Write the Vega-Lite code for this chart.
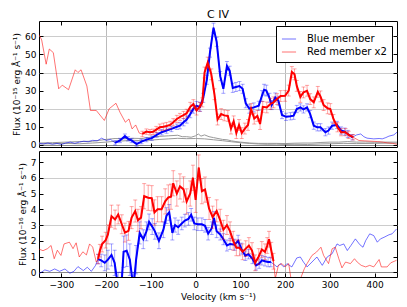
{
  "$schema": "https://vega.github.io/schema/vega-lite/v6.json",
  "padding": {"left": 12, "top": 8, "right": 9, "bottom": 5},
  "spacing": -1,
  "config": {
    "font": "DejaVu Sans",
    "view": {"stroke": "black", "strokeWidth": 1},
    "axis": {"domain": false, "labelFontSize": 9, "titleFontSize": 9, "labelColor": "black", "titleColor": "black", "titleFontWeight": "normal", "tickColor": "black", "tickSize": -4, "labelPadding": 7}
  },
  "resolve": {"scale": {"color": "independent"}, "legend": {"color": "independent"}},
  "datasets": {
    "r11": [
      {"v":-350,"f":61},{"v":-344,"f":58},{"v":-334,"f":44.6},{"v":-327,"f":53},{"v":-318,"f":51},{"v":-306,"f":31},{"v":-298,"f":33},{"v":-284,"f":30.5},{"v":-269,"f":41.5},{"v":-263,"f":40},{"v":-256,"f":41.5},{"v":-243,"f":32.5},{"v":-235,"f":19},{"v":-222,"f":19},{"v":-204,"f":13.5},{"v":-193,"f":20},{"v":-178,"f":23},{"v":-169,"f":18},{"v":-157,"f":12.5},{"v":-149,"f":14.3},{"v":-142,"f":8.8},{"v":-134,"f":11},{"v":-126,"f":6.5},
      {"v":-119,"f":6,"e":1.5},{"v":-110,"f":7.3,"e":1.5},{"v":-102,"f":7,"e":1.5},{"v":-95,"f":7.2,"e":1.5},{"v":-88,"f":8.4,"e":1.8},{"v":-80,"f":9.7,"e":1.8},{"v":-72,"f":10,"e":2},{"v":-65,"f":10.4,"e":2},{"v":-57,"f":11,"e":2},{"v":-50,"f":12.5,"e":2},{"v":-42,"f":14.3,"e":2},{"v":-35,"f":15.4,"e":2},{"v":-27,"f":16.5,"e":2},{"v":-20,"f":17.5,"e":2.2},{"v":-12,"f":21,"e":2.5},{"v":-5,"f":22.5,"e":2.5},{"v":2,"f":19,"e":2.5},{"v":9,"f":21,"e":2.5},{"v":15,"f":23.5,"e":2.5},{"v":20,"f":40,"e":3},{"v":27,"f":45.5,"e":3},{"v":35,"f":39,"e":3},{"v":42,"f":28,"e":3},{"v":49,"f":14,"e":3},{"v":57,"f":17,"e":3},{"v":64,"f":16.3,"e":3},{"v":72,"f":16,"e":3},{"v":79,"f":9,"e":3},{"v":85,"f":13,"e":3},{"v":91,"f":6.5,"e":3},{"v":97,"f":11,"e":3},{"v":103,"f":6.5,"e":3},{"v":110,"f":9,"e":3},{"v":117,"f":11,"e":3},{"v":124,"f":19.8,"e":3},{"v":131,"f":14.5,"e":3},{"v":138,"f":16,"e":3},{"v":144,"f":11.5,"e":3},{"v":150,"f":21,"e":3},{"v":159,"f":20.7,"e":3},{"v":167,"f":22.6,"e":3},{"v":174,"f":23.5,"e":3},{"v":182,"f":25.3,"e":3},{"v":190,"f":27,"e":3},{"v":200,"f":27.1,"e":3},{"v":208,"f":30,"e":3},{"v":215,"f":40.3,"e":3},{"v":221,"f":39,"e":3},{"v":226,"f":32.6,"e":3},{"v":234,"f":26.5,"e":3},{"v":241,"f":29,"e":3},{"v":249,"f":29.9,"e":3},{"v":256,"f":25.3,"e":3},{"v":264,"f":23.5,"e":3},{"v":273,"f":29.3,"e":3},{"v":279,"f":26.8,"e":3},{"v":286,"f":22,"e":3},{"v":295,"f":20.2,"e":3},{"v":301,"f":19.8,"e":3},{"v":308,"f":14.3,"e":2.5},{"v":317,"f":9.7,"e":2.5},{"v":325,"f":7,"e":2},{"v":335,"f":7,"e":2},{"v":342,"f":5.5,"e":2},{"v":352,"f":4.2,"e":1.5},
      {"v":365,"f":2.4},{"v":378,"f":2.2},{"v":392,"f":2},{"v":406,"f":1.8},{"v":418,"f":1.5},{"v":428,"f":1.1},{"v":440,"f":0.8},{"v":450,"f":0.3}
    ],
    "b11": [
      {"v":-350,"f":0.8},{"v":-340,"f":0.5},{"v":-330,"f":1},{"v":-320,"f":0.3},{"v":-310,"f":0.8},{"v":-300,"f":0.2},{"v":-290,"f":1},{"v":-280,"f":1.5},{"v":-270,"f":0.8},{"v":-260,"f":1.5},{"v":-250,"f":2},{"v":-240,"f":1.7},{"v":-230,"f":2.5},{"v":-220,"f":2.2},{"v":-210,"f":3.7},{"v":-200,"f":2.4},{"v":-190,"f":3},
      {"v":-180,"f":1.1,"e":1.2},{"v":-169,"f":2.4,"e":1.2},{"v":-158,"f":4.8,"e":1.2},{"v":-151,"f":3.3,"e":1.2},{"v":-143,"f":2.4,"e":1.2},{"v":-132,"f":0.4,"e":1.2},{"v":-121,"f":1.8,"e":1.2},{"v":-110,"f":2.9,"e":1.2},{"v":-98,"f":3.7,"e":1.2},{"v":-87,"f":5.5,"e":1.3},{"v":-76,"f":7,"e":1.5},{"v":-65,"f":7.9,"e":1.5},{"v":-54,"f":8.8,"e":1.5},{"v":-42,"f":10,"e":1.5},{"v":-35,"f":10.6,"e":1.8},{"v":-27,"f":12.5,"e":2},{"v":-20,"f":14,"e":2},{"v":-12,"f":17,"e":2},{"v":-5,"f":20,"e":2.5},{"v":2,"f":21.5,"e":2.5},{"v":10,"f":21,"e":2.5},{"v":17,"f":26,"e":2.5},{"v":25,"f":36,"e":2.5},{"v":32,"f":51,"e":2.5},{"v":40,"f":64.8,"e":2.5},{"v":47,"f":57,"e":2.5},{"v":55,"f":38,"e":2.5},{"v":62,"f":31,"e":2.5},{"v":70,"f":43.6,"e":2.5},{"v":76,"f":41,"e":2.5},{"v":83,"f":31.5,"e":2.5},{"v":90,"f":32,"e":2.5},{"v":98,"f":32.5,"e":2.5},{"v":105,"f":31,"e":2.5},{"v":112,"f":23,"e":2.5},{"v":120,"f":20,"e":2.5},{"v":130,"f":20.7,"e":2.5},{"v":141,"f":21.6,"e":2.5},{"v":148,"f":27,"e":3},{"v":153,"f":30.5,"e":3},{"v":158,"f":30,"e":3},{"v":165,"f":26,"e":2.5},{"v":170,"f":22,"e":2.5},{"v":178,"f":26.2,"e":2.5},{"v":185,"f":24.4,"e":2.5},{"v":193,"f":16.5,"e":2},{"v":202,"f":15.5,"e":2},{"v":212,"f":15.8,"e":2},{"v":219,"f":16.1,"e":2},{"v":226,"f":19.8,"e":2},{"v":234,"f":20.7,"e":2},{"v":241,"f":19.6,"e":2},{"v":249,"f":20.7,"e":2},{"v":256,"f":17,"e":2},{"v":264,"f":10.6,"e":2},{"v":272,"f":9.7,"e":2},{"v":279,"f":9.7,"e":2},{"v":290,"f":7,"e":2},{"v":297,"f":7.9,"e":2},{"v":305,"f":10.6,"e":2},{"v":316,"f":11,"e":2},{"v":325,"f":7.9,"e":2},{"v":333,"f":7.3,"e":2},{"v":340,"f":6,"e":2},{"v":350,"f":4.2,"e":1.5},
      {"v":360,"f":5.5},{"v":369,"f":6},{"v":376,"f":4.5},{"v":383,"f":3.7},{"v":398,"f":3.3},{"v":410,"f":3.5},{"v":417,"f":3.3},{"v":425,"f":4},{"v":432,"f":4.8},{"v":443,"f":5.5},{"v":450,"f":7}
    ],
    "g1": [
      {"v":-350,"f":1},{"v":-320,"f":1.2},{"v":-290,"f":1.5},{"v":-260,"f":1.8},{"v":-230,"f":2},{"v":-200,"f":3},{"v":-180,"f":3.5},{"v":-160,"f":3.3},{"v":-140,"f":3.6},{"v":-120,"f":3.5},{"v":-100,"f":4.2},{"v":-80,"f":4.7},{"v":-60,"f":5},{"v":-40,"f":5.3},{"v":-30,"f":4.5},{"v":-20,"f":4.5},{"v":-10,"f":4.2},{"v":0,"f":5},{"v":6,"f":6},{"v":12,"f":4.8},{"v":20,"f":5.5},{"v":30,"f":4.5},{"v":40,"f":4},{"v":50,"f":3.5},{"v":60,"f":3},{"v":70,"f":2.8},{"v":80,"f":2.2},{"v":90,"f":1.8},{"v":100,"f":1.5},{"v":120,"f":1},{"v":140,"f":0.8},{"v":160,"f":0.8},{"v":180,"f":0.8},{"v":200,"f":0.7},{"v":220,"f":0.9},{"v":240,"f":1},{"v":260,"f":1},{"v":280,"f":1.3},{"v":300,"f":1.5},{"v":320,"f":1.5},{"v":340,"f":1.8},{"v":360,"f":1.5},{"v":380,"f":1.6},{"v":400,"f":1.4},{"v":420,"f":1.5},{"v":450,"f":1.5}
    ],
    "g2": [
      {"v":-350,"f":0.5},{"v":-320,"f":0.6},{"v":-290,"f":0.8},{"v":-260,"f":0.6},{"v":-230,"f":1},{"v":-200,"f":1.5},{"v":-180,"f":2},{"v":-160,"f":2.2},{"v":-140,"f":2.5},{"v":-120,"f":2.3},{"v":-100,"f":2.6},{"v":-80,"f":3},{"v":-60,"f":3.3},{"v":-40,"f":3.6},{"v":-20,"f":3.4},{"v":0,"f":3.5},{"v":20,"f":3.3},{"v":40,"f":2.8},{"v":60,"f":2.3},{"v":80,"f":1.7},{"v":100,"f":1.2},{"v":120,"f":0.8},{"v":140,"f":0.5},{"v":160,"f":0.3},{"v":180,"f":0.4},{"v":200,"f":0.2},{"v":220,"f":0.3},{"v":250,"f":0.2},{"v":280,"f":0.5},{"v":300,"f":0.6},{"v":330,"f":0.8},{"v":360,"f":0.7},{"v":400,"f":0.8},{"v":450,"f":1}
    ],
    "r13": [
      {"v":-350,"f":1.47},{"v":-341,"f":1.37},{"v":-331,"f":1.5},{"v":-323,"f":1.7},{"v":-316,"f":0.86},{"v":-309,"f":1.4},{"v":-301,"f":1.07},{"v":-294,"f":1.8},{"v":-282,"f":1.91},{"v":-274,"f":1.5},{"v":-267,"f":1.87},{"v":-260,"f":0.97},{"v":-252,"f":1.3},{"v":-244,"f":1.1},{"v":-237,"f":1.8},{"v":-230,"f":1.6},{"v":-222,"f":0.65},
      {"v":-218,"f":0.84,"e":0.3},{"v":-214,"f":1.37,"e":0.4},{"v":-209,"f":1.79,"e":0.5},{"v":-201,"f":2.04,"e":0.5},{"v":-196,"f":2.4,"e":0.6},{"v":-188,"f":3.56,"e":0.7},{"v":-180,"f":3.35,"e":0.6},{"v":-173,"f":3.67,"e":0.6},{"v":-165,"f":3.05,"e":0.6},{"v":-158,"f":2.52,"e":0.6},{"v":-150,"f":2.63,"e":0.6},{"v":-143,"f":3.47,"e":0.7},{"v":-135,"f":3.89,"e":0.7},{"v":-129,"f":3.3,"e":0.7},{"v":-122,"f":3.47,"e":0.7},{"v":-115,"f":4.83,"e":0.8},{"v":-106,"f":4.73,"e":0.8},{"v":-98,"f":4.7,"e":0.8},{"v":-92,"f":3.8,"e":0.8},{"v":-85,"f":4.0,"e":0.8},{"v":-76,"f":4.0,"e":0.8},{"v":-68,"f":4.5,"e":0.8},{"v":-61,"f":4.75,"e":0.8},{"v":-55,"f":4.8,"e":0.8},{"v":-50,"f":5.65,"e":0.8},{"v":-42,"f":5.0,"e":0.8},{"v":-35,"f":5.45,"e":0.8},{"v":-27,"f":5.26,"e":0.8},{"v":-20,"f":4.5,"e":0.8},{"v":-12,"f":5.0,"e":0.8},{"v":-6,"f":6.0,"e":0.8},{"v":0,"f":4.6,"e":0.8},{"v":7,"f":6.65,"e":0.8},{"v":14,"f":5.15,"e":0.8},{"v":21,"f":5.25,"e":0.8},{"v":30,"f":4.05,"e":0.7},{"v":38,"f":3.5,"e":0.7},{"v":47,"f":3.9,"e":0.7},{"v":55,"f":3.3,"e":0.7},{"v":62,"f":2.7,"e":0.6},{"v":70,"f":3.0,"e":0.6},{"v":77,"f":2.6,"e":0.6},{"v":84,"f":2.0,"e":0.6},{"v":91,"f":1.55,"e":0.5},{"v":98,"f":1.55,"e":0.5},{"v":105,"f":1.3,"e":0.5},{"v":112,"f":1.5,"e":0.5},{"v":119,"f":1.7,"e":0.5},{"v":126,"f":1.38,"e":0.5},{"v":133,"f":0.6,"e":0.5},{"v":141,"f":1.0,"e":0.5},{"v":148,"f":1.45,"e":0.5},{"v":155,"f":1.3,"e":0.5},{"v":160,"f":1.7,"e":0.5},{"v":164,"f":2.1,"e":0.5},{"v":169,"f":1.4,"e":0.5},{"v":174,"f":0.7,"e":0.5},
      {"v":178,"f":-0.4},{"v":185,"f":0.44},{"v":193,"f":0.55},{"v":200,"f":0.34},{"v":208,"f":0.55},{"v":213,"f":-0.4},{"v":223,"f":-0.5},{"v":233,"f":-0.5},{"v":243,"f":0.23},{"v":249,"f":0.55},{"v":260,"f":1.07},{"v":270,"f":1.28},{"v":280,"f":1.59},{"v":286,"f":1.07},{"v":297,"f":0.55},{"v":305,"f":1.49},{"v":312,"f":1.59},{"v":320,"f":0.86},{"v":327,"f":0.28},{"v":335,"f":0.65},{"v":346,"f":0.55},{"v":355,"f":0.86},{"v":361,"f":0.65},{"v":370,"f":0.44},{"v":380,"f":0.34},{"v":389,"f":0.44},{"v":398,"f":0.34},{"v":410,"f":0.81},{"v":415,"f":0.34},{"v":428,"f":0.34},{"v":436,"f":0.6},{"v":449,"f":0.76}
    ],
    "b13": [
      {"v":-350,"f":-0.1},{"v":-337,"f":0.15},{"v":-326,"f":0.06},{"v":-315,"f":0.21},{"v":-304,"f":0.06},{"v":-292,"f":0.21},{"v":-281,"f":-0.06},{"v":-272,"f":0.06},{"v":-263,"f":0.36},{"v":-251,"f":0.11},{"v":-242,"f":0.32},{"v":-233,"f":0.06},{"v":-224,"f":0.42},
      {"v":-218,"f":0.84,"e":0.3},{"v":-211,"f":0.75,"e":0.4},{"v":-203,"f":0.6,"e":0.5},{"v":-196,"f":0.8,"e":0.6},{"v":-188,"f":1.1,"e":0.7},{"v":-181,"f":0.6,"e":0.8},{"v":-173,"f":-1,"e":1},{"v":-166,"f":-1,"e":1},{"v":-161,"f":1.3,"e":1},{"v":-154,"f":1.37,"e":1},{"v":-147,"f":0.8,"e":1},{"v":-139,"f":-1,"e":1},{"v":-133,"f":0.8,"e":0.9},{"v":-125,"f":2.5,"e":0.7},{"v":-117,"f":2.1,"e":0.6},{"v":-110,"f":2.6,"e":0.6},{"v":-104,"f":3.2,"e":0.5},{"v":-97,"f":2.9,"e":0.5},{"v":-91,"f":2.6,"e":0.5},{"v":-82,"f":2.0,"e":0.5},{"v":-72,"f":2.7,"e":0.5},{"v":-65,"f":3.6,"e":0.5},{"v":-59,"f":3.8,"e":0.5},{"v":-52,"f":2.5,"e":0.45},{"v":-46,"f":3.0,"e":0.45},{"v":-39,"f":2.86,"e":0.45},{"v":-31,"f":3.1,"e":0.4},{"v":-24,"f":3.28,"e":0.4},{"v":-16,"f":3.39,"e":0.4},{"v":-10,"f":3.65,"e":0.4},{"v":-3,"f":3.1,"e":0.4},{"v":5,"f":3.05,"e":0.4},{"v":14,"f":3.05,"e":0.4},{"v":21,"f":2.95,"e":0.4},{"v":28,"f":2.45,"e":0.4},{"v":36,"f":2.8,"e":0.4},{"v":41,"f":3.45,"e":0.4},{"v":47,"f":2.6,"e":0.4},{"v":55,"f":2.4,"e":0.35},{"v":62,"f":2.1,"e":0.35},{"v":70,"f":1.7,"e":0.35},{"v":77,"f":1.8,"e":0.35},{"v":87,"f":1.75,"e":0.35},{"v":95,"f":2.0,"e":0.35},{"v":102,"f":1.5,"e":0.35},{"v":111,"f":1.05,"e":0.3},{"v":118,"f":1.15,"e":0.3},{"v":127,"f":0.85,"e":0.3},{"v":135,"f":0.44,"e":0.3},{"v":142,"f":0.55,"e":0.3},{"v":148,"f":0.76,"e":0.3},{"v":155,"f":0.7,"e":0.3},{"v":162,"f":0.65,"e":0.3},{"v":168,"f":0.65,"e":0.3},
      {"v":175,"f":0.5},{"v":182,"f":0.34},{"v":189,"f":0.55},{"v":197,"f":0.34},{"v":204,"f":0.55},{"v":215,"f":0.34},{"v":226,"f":0.91},{"v":234,"f":0.97},{"v":241,"f":0.65},{"v":249,"f":0.34},{"v":260,"f":0.65},{"v":271,"f":0.97},{"v":283,"f":0.44},{"v":294,"f":0.97},{"v":305,"f":1.18},{"v":316,"f":1.8},{"v":322,"f":1.7},{"v":331,"f":1.8},{"v":339,"f":1.38},{"v":347,"f":1.7},{"v":357,"f":2.12},{"v":367,"f":1.75},{"v":374,"f":1.59},{"v":380,"f":2.01},{"v":389,"f":2.44},{"v":398,"f":2.33},{"v":406,"f":1.91},{"v":413,"f":2.12},{"v":421,"f":2.22},{"v":432,"f":2.38},{"v":439,"f":2.44},{"v":449,"f":2.75}
    ]
  },
  "vconcat": [
    {
      "width": 358, "height": 126,
      "title": {"text": "C IV", "fontSize": 11, "fontWeight": "normal", "font": "DejaVu Sans", "anchor": "middle", "frame": "group", "offset": 1},
      "resolve": {"axis": {"x": "independent", "y": "independent"}},
      "layer": [
        {"data": {"name": "g1"}, "mark": {"type": "line", "color": "#999999", "strokeWidth": 1, "clip": true},
         "encoding": {
           "x": {"field": "v", "type": "quantitative", "scale": {"domain": [-350, 450], "nice": false, "zero": false},
                 "axis": {"values": [-300,-200,-100,0,100,200,300,400], "labels": false, "labelPadding": 0, "title": null, "grid": true, "gridColor": "#bbbbbb",
                          "gridOpacity": {"condition": {"test": "datum.value === -200 || datum.value === 0 || datum.value === 200", "value": 1}, "value": 0}}},
           "y": {"field": "f", "type": "quantitative", "scale": {"domain": [-1.2, 68.5], "nice": false, "zero": false},
                 "axis": {"values": [0,10,20,30,40,50,60], "title": "Flux (10⁻¹⁵ erg Å⁻¹ s⁻¹)", "titlePadding": 3, "grid": true,
                          "gridColor": {"condition": {"test": "datum.value === 0", "value": "#888888"}, "value": "#cccccc"},
                          "gridOpacity": {"condition": {"test": "datum.value % 20 === 0", "value": 1}, "value": 0}}}
         }},
        {"data": {"name": "g2"}, "mark": {"type": "line", "color": "#999999", "strokeWidth": 1, "clip": true},
         "encoding": {"x": {"field": "v", "type": "quantitative", "axis": {"orient": "top", "values": [-300,-200,-100,0,100,200,300,400], "labels": false, "title": null, "labelPadding": 0, "grid": false}},
                      "y": {"field": "f", "type": "quantitative", "axis": {"orient": "right", "values": [0,10,20,30,40,50,60], "labels": false, "title": null, "labelPadding": 0, "grid": false}}}},
        {"data": {"name": "b11"}, "mark": {"type": "line", "strokeWidth": 1, "opacity": 0.55, "clip": true},
         "encoding": {"x": {"field": "v", "type": "quantitative", "axis": null}, "y": {"field": "f", "type": "quantitative", "axis": null},
           "color": {"datum": "Blue member", "type": "nominal", "scale": {"domain": ["Blue member", "Red member x2"], "range": ["#0000ff", "#ff0000"]},
             "legend": {"orient": "top-right", "title": null, "symbolType": "stroke", "symbolStrokeWidth": 1, "symbolOpacity": 0.6, "symbolSize": 200, "labelFontSize": 10, "labelFont": "DejaVu Sans", "labelColor": "black", "fillColor": "white", "strokeColor": "black", "padding": 5, "offset": 5, "rowPadding": 0, "labelOffset": 10, "labelLimit": 200}}}},
        {"data": {"name": "r11"}, "mark": {"type": "line", "strokeWidth": 1, "opacity": 0.55, "clip": true},
         "encoding": {"x": {"field": "v", "type": "quantitative", "axis": null}, "y": {"field": "f", "type": "quantitative", "axis": null},
           "color": {"datum": "Red member x2", "type": "nominal"}}},
        {"data": {"name": "b11"}, "transform": [{"filter": "isValid(datum.e)"}],
         "mark": {"type": "errorbar", "ticks": {"size": 4}, "color": "#0000ff", "opacity": 0.35, "clip": true},
         "encoding": {"x": {"field": "v", "type": "quantitative", "axis": null}, "y": {"field": "f", "type": "quantitative", "axis": null}, "yError": {"field": "e"}}},
        {"data": {"name": "b11"}, "transform": [{"filter": "isValid(datum.e)"}],
         "mark": {"type": "line", "color": "#0000ff", "strokeWidth": 2, "clip": true},
         "encoding": {"x": {"field": "v", "type": "quantitative", "axis": null}, "y": {"field": "f", "type": "quantitative", "axis": null}}},
        {"data": {"name": "r11"}, "transform": [{"filter": "isValid(datum.e)"}],
         "mark": {"type": "errorbar", "ticks": {"size": 4}, "color": "#ff0000", "opacity": 0.35, "clip": true},
         "encoding": {"x": {"field": "v", "type": "quantitative", "axis": null}, "y": {"field": "f", "type": "quantitative", "axis": null}, "yError": {"field": "e"}}},
        {"data": {"name": "r11"}, "transform": [{"filter": "isValid(datum.e)"}],
         "mark": {"type": "line", "color": "#ff0000", "strokeWidth": 2, "clip": true},
         "encoding": {"x": {"field": "v", "type": "quantitative", "axis": null}, "y": {"field": "f", "type": "quantitative", "axis": null}}},
        {"mark": {"type": "text", "text": "2011", "fontSize": 12, "color": "black", "align": "center", "baseline": "middle"},
         "encoding": {"x": {"datum": -240, "type": "quantitative", "axis": null}, "y": {"datum": 56.5, "type": "quantitative", "axis": null}}},
        {"mark": {"type": "text", "text": "2013", "fontSize": 10, "color": "#999999", "align": "center", "baseline": "middle"},
         "encoding": {"x": {"datum": -83, "type": "quantitative", "axis": null}, "y": {"datum": 22.5, "type": "quantitative", "axis": null}}},
        {"mark": {"type": "rule", "color": "#777777", "strokeWidth": 0.8},
         "encoding": {"x": {"datum": -76, "type": "quantitative", "axis": null}, "y": {"datum": 18.3, "type": "quantitative", "axis": null}, "x2": {"datum": -32}, "y2": {"datum": 4.8}}}
      ]
    },
    {
      "width": 358, "height": 126,
      "resolve": {"axis": {"x": "independent", "y": "independent"}},
      "layer": [
        {"data": {"name": "b13"}, "mark": {"type": "line", "color": "#0000ff", "strokeWidth": 1, "opacity": 0.55, "clip": true},
         "encoding": {
           "x": {"field": "v", "type": "quantitative", "scale": {"domain": [-350, 450], "nice": false, "zero": false},
                 "axis": {"values": [-300,-200,-100,0,100,200,300,400], "title": "Velocity (km s⁻¹)", "titlePadding": 3, "grid": true, "gridColor": "#bbbbbb",
                          "gridOpacity": {"condition": {"test": "datum.value === -200 || datum.value === 0 || datum.value === 200", "value": 1}, "value": 0}}},
           "y": {"field": "f", "type": "quantitative", "scale": {"domain": [-0.3, 7.7], "nice": false, "zero": false},
                 "axis": {"values": [0,1,2,3,4,5,6,7], "title": "Flux (10⁻¹⁶ erg Å⁻¹ s⁻¹)", "titlePadding": 3, "grid": true,
                          "gridColor": {"condition": {"test": "datum.value === 0", "value": "#888888"}, "value": "#cccccc"},
                          "gridOpacity": {"condition": {"test": "datum.value % 3 === 0", "value": 1}, "value": 0}}}
         }},
        {"data": {"name": "r13"}, "mark": {"type": "line", "color": "#ff0000", "strokeWidth": 1, "opacity": 0.55, "clip": true},
         "encoding": {"x": {"field": "v", "type": "quantitative", "axis": {"orient": "top", "values": [-300,-200,-100,0,100,200,300,400], "labels": false, "title": null, "labelPadding": 0, "grid": false}},
                      "y": {"field": "f", "type": "quantitative", "axis": {"orient": "right", "values": [0,1,2,3,4,5,6,7], "labels": false, "title": null, "labelPadding": 0, "grid": false}}}},
        {"data": {"name": "b13"}, "transform": [{"filter": "isValid(datum.e)"}],
         "mark": {"type": "errorbar", "ticks": {"size": 4}, "color": "#0000ff", "opacity": 0.35, "clip": true},
         "encoding": {"x": {"field": "v", "type": "quantitative", "axis": null}, "y": {"field": "f", "type": "quantitative", "axis": null}, "yError": {"field": "e"}}},
        {"data": {"name": "b13"}, "transform": [{"filter": "isValid(datum.e)"}],
         "mark": {"type": "line", "color": "#0000ff", "strokeWidth": 2, "clip": true},
         "encoding": {"x": {"field": "v", "type": "quantitative", "axis": null}, "y": {"field": "f", "type": "quantitative", "axis": null}}},
        {"data": {"name": "r13"}, "transform": [{"filter": "isValid(datum.e)"}],
         "mark": {"type": "errorbar", "ticks": {"size": 4}, "color": "#ff0000", "opacity": 0.35, "clip": true},
         "encoding": {"x": {"field": "v", "type": "quantitative", "axis": null}, "y": {"field": "f", "type": "quantitative", "axis": null}, "yError": {"field": "e"}}},
        {"data": {"name": "r13"}, "transform": [{"filter": "isValid(datum.e)"}],
         "mark": {"type": "line", "color": "#ff0000", "strokeWidth": 2, "clip": true},
         "encoding": {"x": {"field": "v", "type": "quantitative", "axis": null}, "y": {"field": "f", "type": "quantitative", "axis": null}}},
        {"mark": {"type": "text", "text": "2013", "fontSize": 12, "color": "black", "align": "center", "baseline": "middle"},
         "encoding": {"x": {"datum": -240, "type": "quantitative", "axis": null}, "y": {"datum": 6.3, "type": "quantitative", "axis": null}}}
      ]
    }
  ]
}
